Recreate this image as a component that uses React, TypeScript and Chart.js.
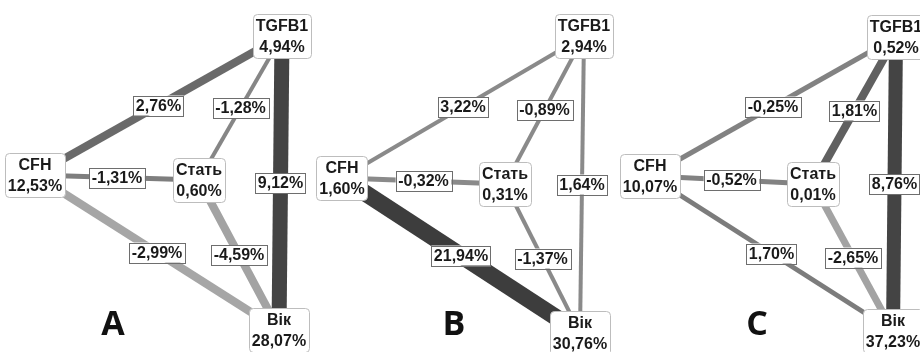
import React, { useEffect, useRef } from "react";
import { Chart, registerables } from "chart.js";

Chart.register(...registerables);

// ---------- data ----------
const panelLetters = ["A", "B", "C"];
const nodeNames = ["TGFB1", "CFH", "Стать", "Вік"];
const nodeValuesA = [4.94, 12.53, 0.6, 28.07];
const nodeValuesB = [2.94, 1.6, 0.31, 30.76];
const nodeValuesC = [0.52, 10.07, 0.01, 37.23];
// edges: CFH–TGFB1, Стать–TGFB1, CFH–Стать, TGFB1–Вік, CFH–Вік, Стать–Вік
const edgePairs = [
  [1, 0],
  [2, 0],
  [1, 2],
  [0, 3],
  [1, 3],
  [2, 3],
];
const edgeValuesA = [2.76, -1.28, -1.31, 9.12, -2.99, -4.59];
const edgeValuesB = [3.22, -0.89, -0.32, 1.64, 21.94, -1.37];
const edgeValuesC = [-0.25, 1.81, -0.52, 8.76, 1.7, -2.65];

// ---------- layout & style ----------
const nodeLayoutA = [[282, 36], [35, 175], [199, 180], [279, 330]];
const nodeLayoutB = [[584, 36], [342, 178], [505, 184], [580, 333]];
const nodeLayoutC = [[896, 37], [650, 176], [813, 184], [893, 331]];
const letterPosA = [113, 325];
const letterPosB = [454, 325];
const letterPosC = [757, 325];
const edgeWidthsA = [8, 4, 5, 15, 8, 8];
const edgeWidthsB = [4, 4, 5, 4, 17, 4];
const edgeWidthsC = [5, 8, 5, 14, 5, 7];
const edgeColorsA = ["#6a6a6a", "#868686", "#7e7e7e", "#444444", "#a6a6a6", "#a3a3a3"];
const edgeColorsB = ["#8a8a8a", "#8a8a8a", "#8a8a8a", "#8a8a8a", "#3d3d3d", "#8a8a8a"];
const edgeColorsC = ["#828282", "#606060", "#828282", "#444444", "#7c7c7c", "#a3a3a3"];

const panels = [
  { letter: panelLetters[0], nodeValues: nodeValuesA, edgeValues: edgeValuesA, layout: nodeLayoutA, letterPos: letterPosA, widths: edgeWidthsA, colors: edgeColorsA },
  { letter: panelLetters[1], nodeValues: nodeValuesB, edgeValues: edgeValuesB, layout: nodeLayoutB, letterPos: letterPosB, widths: edgeWidthsB, colors: edgeColorsB },
  { letter: panelLetters[2], nodeValues: nodeValuesC, edgeValues: edgeValuesC, layout: nodeLayoutC, letterPos: letterPosC, widths: edgeWidthsC, colors: edgeColorsC },
];

const W = 920;
const H = 352;
const FONT = '"Liberation Sans", Arial, sans-serif';

const fmt = (v: number) => v.toFixed(2).replace(".", ",") + "%";

function roundRect(ctx: CanvasRenderingContext2D, x: number, y: number, w: number, h: number, r: number) {
  ctx.beginPath();
  ctx.moveTo(x + r, y);
  ctx.lineTo(x + w - r, y);
  ctx.quadraticCurveTo(x + w, y, x + w, y + r);
  ctx.lineTo(x + w, y + h - r);
  ctx.quadraticCurveTo(x + w, y + h, x + w - r, y + h);
  ctx.lineTo(x + r, y + h);
  ctx.quadraticCurveTo(x, y + h, x, y + h - r);
  ctx.lineTo(x, y + r);
  ctx.quadraticCurveTo(x, y, x + r, y);
  ctx.closePath();
}

const labelsPlugin = {
  id: "networkLabels",
  afterDatasetsDraw(chart: any) {
    const ctx: CanvasRenderingContext2D = chart.ctx;
    const xs = chart.scales.x;
    const ys = chart.scales.y;
    ctx.save();
    panels.forEach((p) => {
      // edge value labels at edge midpoints
      edgePairs.forEach(([a, b], i) => {
        const mx = xs.getPixelForValue((p.layout[a][0] + p.layout[b][0]) / 2);
        const my = ys.getPixelForValue((p.layout[a][1] + p.layout[b][1]) / 2);
        const txt = fmt(p.edgeValues[i]);
        ctx.font = `bold 16px ${FONT}`;
        const tw = ctx.measureText(txt).width;
        const bw = tw + 5;
        const bh = 20;
        ctx.fillStyle = "#ffffff";
        ctx.fillRect(mx - bw / 2, my - bh / 2, bw, bh);
        ctx.strokeStyle = "#6e6e6e";
        ctx.lineWidth = 1;
        ctx.strokeRect(Math.round(mx - bw / 2) + 0.5, Math.round(my - bh / 2) + 0.5, Math.round(bw), bh);
        ctx.fillStyle = "#1a1a1a";
        ctx.textAlign = "center";
        ctx.textBaseline = "middle";
        ctx.fillText(txt, mx, my + 1);
      });
      // node boxes
      nodeNames.forEach((name, i) => {
        const cx = xs.getPixelForValue(p.layout[i][0]);
        const cy = ys.getPixelForValue(p.layout[i][1]);
        const l1 = name;
        const l2 = fmt(p.nodeValues[i]);
        ctx.font = `bold 16px ${FONT}`;
        const tw = Math.max(ctx.measureText(l1).width, ctx.measureText(l2).width);
        const bw = tw + 6;
        const bh = 44;
        roundRect(ctx, Math.round(cx - bw / 2) + 0.5, Math.round(cy - bh / 2) + 0.5, Math.round(bw), bh, 4);
        ctx.fillStyle = "#ffffff";
        ctx.fill();
        ctx.strokeStyle = "#bdbdbd";
        ctx.lineWidth = 1;
        ctx.stroke();
        ctx.fillStyle = "#1a1a1a";
        ctx.textAlign = "center";
        ctx.textBaseline = "middle";
        ctx.fillText(l1, cx, cy - 9);
        ctx.fillText(l2, cx, cy + 12);
      });
      // panel letter
      ctx.font = `bold 34px "Open Sans", ${FONT}`;
      ctx.fillStyle = "#111111";
      ctx.textAlign = "center";
      ctx.textBaseline = "middle";
      ctx.fillText(p.letter, xs.getPixelForValue(p.letterPos[0]), ys.getPixelForValue(p.letterPos[1]));
    });
    ctx.restore();
  },
};

export default function App() {
  const ref = useRef<HTMLCanvasElement | null>(null);
  useEffect(() => {
    if (!ref.current) return;
    const datasets: any[] = [];
    panels.forEach((p) => {
      edgePairs.forEach(([a, b], i) => {
        datasets.push({
          label: `${p.letter}: ${nodeNames[a]}–${nodeNames[b]} ${fmt(p.edgeValues[i])}`,
          data: [
            { x: p.layout[a][0], y: p.layout[a][1] },
            { x: p.layout[b][0], y: p.layout[b][1] },
          ],
          showLine: true,
          borderColor: p.colors[i],
          backgroundColor: p.colors[i],
          borderWidth: p.widths[i],
          pointRadius: 0,
          pointHoverRadius: 0,
          fill: false,
          tension: 0,
        });
      });
    });
    const chart = new Chart(ref.current, {
      type: "scatter",
      data: { datasets },
      options: {
        animation: false,
        responsive: false,
        devicePixelRatio: 1,
        layout: { padding: 0 },
        plugins: { legend: { display: false }, tooltip: { enabled: false } },
        scales: {
          x: { type: "linear", min: 0, max: W, display: false },
          y: { type: "linear", min: 0, max: H, reverse: true, display: false },
        },
      },
      plugins: [labelsPlugin],
    });
    return () => chart.destroy();
  }, []);
  return (
    <div style={{ width: W, height: H, background: "#ffffff" }}>
      <style>{`body{margin:0;background:#fff;}`}</style>
      <canvas ref={ref} width={W} height={H} style={{ display: "block", width: W, height: H }} />
    </div>
  );
}
